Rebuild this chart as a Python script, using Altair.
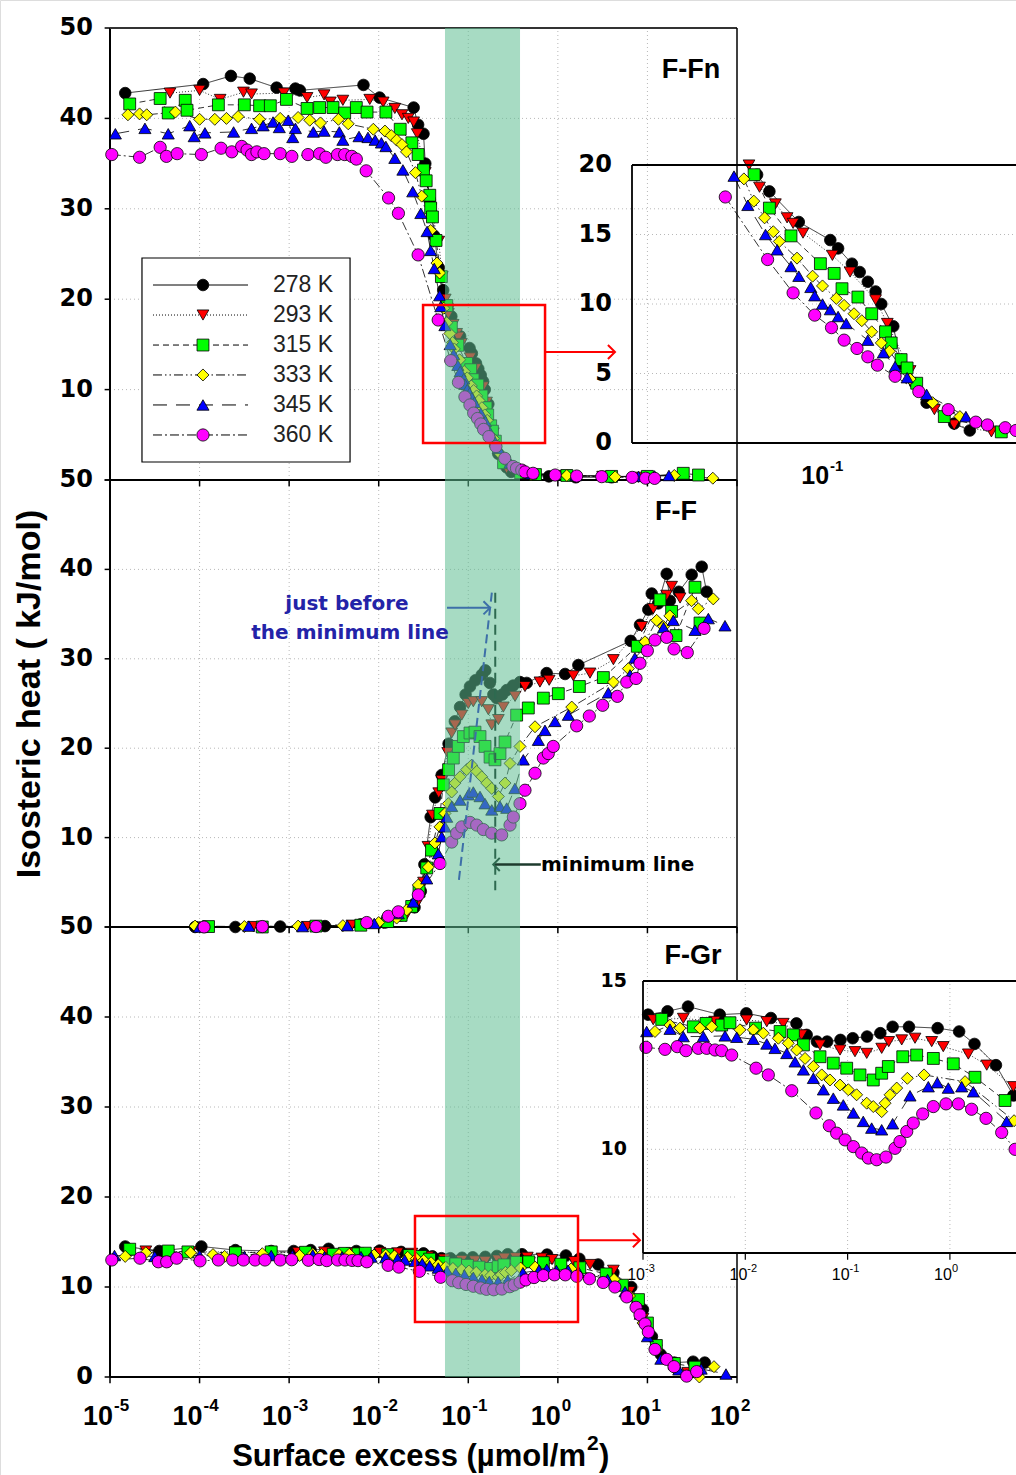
import altair as alt
import pandas as pd

# ---------------- series styling ----------------
SERIES = ["278 K", "293 K", "315 K", "333 K", "345 K", "360 K"]
FILLS = ["#000000", "#ff0000", "#00ff00", "#ffff00", "#0000ff", "#ff00ff"]
SHAPES = ["circle", "triangle-down", "square", "diamond", "triangle-up", "circle"]
SIZES = [135, 150, 110, 175, 150, 145]
DASHES = [[1, 0], [1, 2], [6, 4], [9, 3, 1.5, 3, 1.5, 3], [14, 9], [9, 3, 2, 3]]

# ---------------- data: (log10 surface excess, isosteric heat kJ/mol) ----------------
# Panel F-Fn
FFN_278 = [(-4.83, 42.8), (-3.96, 43.8), (-3.65, 44.7), (-3.44, 44.4), (-3.14, 43.4), (-2.93, 43.3), (-2.88, 43.1),
           (-2.17, 43.7), (-1.99, 42.3), (-1.61, 41.2), (-1.56, 39.3), (-1.50, 38.3), (-1.48, 35.0), (-1.43, 31.0),
           (-1.38, 27.0), (-1.33, 23.5), (-1.28, 21.0), (-1.23, 19.3), (-1.189, 18.1), (-1.091, 15.9), (-0.986, 14.6),
           (-0.960, 14.0), (-0.914, 12.9), (-0.888, 12.3), (-0.861, 11.6), (-0.835, 10.9), (-0.816, 10.0),
           (-0.776, 8.4), (-0.750, 5.7), (-0.704, 4.3), (-0.665, 2.9), (-0.573, 1.4), (-0.521, 0.9), (-0.35, 0.6),
           (-0.1, 0.4), (0.2, 0.3), (0.6, 0.3)]
FFN_293 = [(-4.33, 42.8), (-4.00, 43.1), (-3.77, 42.1), (-3.51, 42.9), (-3.42, 42.7), (-3.06, 42.8), (-2.80, 42.3),
           (-2.61, 42.6), (-2.54, 41.8), (-2.40, 42.0), (-2.10, 42.1), (-1.95, 41.8), (-1.82, 41.1), (-1.74, 40.4),
           (-1.67, 40.0), (-1.61, 39.6), (-1.57, 38.3), (-1.48, 34.0), (-1.42, 30.0), (-1.33, 26.4), (-1.29, 22.5),
           (-1.257, 20.0), (-1.222, 18.4), (-1.169, 17.2), (-1.130, 16.2), (-1.110, 15.8), (-1.077, 15.1),
           (-0.979, 13.5), (-0.920, 12.3), (-0.835, 10.3), (-0.796, 8.6), (-0.72, 5.2), (-0.639, 2.4), (-0.573, 1.3),
           (-0.449, 0.8), (-0.3, 0.6), (0.0, 0.5), (0.5, 0.4), (0.9, 0.3)]
FFN_315 = [(-4.78, 41.6), (-4.44, 42.2), (-4.35, 40.6), (-4.16, 42.0), (-4.14, 40.9), (-3.79, 41.5), (-3.50, 41.5),
           (-3.33, 41.4), (-3.21, 41.4), (-3.03, 42.1), (-2.80, 41.1), (-2.66, 41.2), (-2.51, 41.2), (-2.38, 40.6),
           (-2.25, 41.2), (-2.13, 40.7), (-1.92, 40.7), (-1.76, 38.8), (-1.63, 37.3), (-1.56, 36.0), (-1.50, 34.3),
           (-1.47, 33.1), (-1.43, 31.5), (-1.42, 30.1), (-1.40, 29.1), (-1.36, 26.5), (-1.30, 22.5), (-1.24, 19.3),
           (-1.189, 16.9), (-1.117, 14.9), (-1.019, 12.9), (-0.973, 12.2), (-0.947, 11.1), (-0.894, 10.5),
           (-0.848, 9.3), (-0.802, 8.0), (-0.783, 7.2), (-0.750, 6.0), (-0.730, 5.4), (-0.698, 4.3), (-0.606, 1.9),
           (-0.416, 0.8), (-0.25, 0.6), (0.1, 0.5), (0.6, 0.4), (1.0, 0.4), (1.40, 0.74), (1.57, 0.55)]
FFN_333 = [(-4.80, 40.4), (-4.67, 40.5), (-4.59, 40.4), (-4.27, 40.7), (-4.00, 39.9), (-3.83, 39.9), (-3.70, 40.0),
           (-3.57, 40.2), (-3.33, 39.9), (-3.10, 40.0), (-2.90, 40.1), (-2.77, 39.8), (-2.65, 39.5), (-2.45, 39.9),
           (-2.34, 39.4), (-2.06, 38.8), (-1.93, 38.6), (-1.86, 38.1), (-1.80, 37.6), (-1.74, 37.1), (-1.69, 36.3),
           (-1.59, 34.0), (-1.52, 31.4), (-1.42, 27.6), (-1.35, 24.0), (-1.32, 22.9), (-1.274, 19.0), (-1.241, 17.4),
           (-1.205, 16.2), (-1.176, 15.2), (-1.156, 14.5), (-1.097, 13.3), (-1.045, 12.0), (-1.012, 11.3),
           (-0.966, 10.4), (-0.940, 9.9), (-0.907, 9.3), (-0.881, 8.8), (-0.848, 8.0), (-0.816, 7.2), (-0.789, 6.6),
           (-0.72, 4.6), (-0.645, 2.9), (-0.554, 1.9), (-0.3, 0.6), (0.1, 0.5), (0.64, 0.35), (1.3, 0.5), (1.73, 0.2)]
FFN_345 = [(-4.94, 38.3), (-4.61, 38.9), (-4.35, 38.3), (-4.11, 39.2), (-4.06, 38.0), (-3.94, 38.4), (-3.62, 38.5),
           (-3.42, 38.9), (-3.29, 39.2), (-3.18, 39.6), (-3.11, 39.0), (-3.01, 39.8), (-2.96, 37.9), (-2.93, 38.9),
           (-2.73, 38.5), (-2.61, 38.6), (-2.44, 38.5), (-2.40, 37.6), (-2.22, 38.0), (-2.12, 37.9), (-2.04, 37.6),
           (-1.97, 37.3), (-1.92, 36.9), (-1.82, 35.6), (-1.73, 34.3), (-1.62, 31.9), (-1.53, 29.5), (-1.46, 27.5),
           (-1.42, 25.4), (-1.38, 23.4), (-1.32, 20.4), (-1.307, 19.2), (-1.261, 17.1), (-1.202, 15.0),
           (-1.163, 13.9), (-1.117, 12.7), (-1.091, 12.0), (-1.051, 11.2), (-1.038, 10.6), (-1.012, 10.0),
           (-0.986, 9.6), (-0.960, 9.1), (-0.933, 8.6), (-0.861, 7.4), (-0.809, 6.5), (-0.770, 5.5), (-0.730, 4.7),
           (-0.665, 3.5), (-0.534, 1.9), (-0.3, 0.7), (0.2, 0.5), (0.9, 0.4), (1.08, 0.45), (1.24, 0.5)]
FFN_360 = [(-4.98, 36.0), (-4.67, 35.7), (-4.44, 36.8), (-4.37, 35.8), (-4.25, 36.1), (-3.98, 36.0), (-3.76, 36.7),
           (-3.64, 36.3), (-3.53, 36.9), (-3.47, 36.5), (-3.42, 36.0), (-3.36, 36.3), (-3.28, 36.1), (-3.10, 36.1),
           (-2.97, 35.8), (-2.79, 36.0), (-2.66, 36.1), (-2.59, 35.7), (-2.46, 36.0), (-2.38, 36.0), (-2.30, 35.8),
           (-2.25, 35.5), (-2.14, 34.2), (-1.89, 31.2), (-1.78, 29.5), (-1.56, 24.9), (-1.336, 17.7), (-1.195, 13.2),
           (-1.110, 10.8), (-1.038, 9.2), (-0.982, 8.3), (-0.940, 7.4), (-0.897, 6.8), (-0.861, 6.2), (-0.829, 5.6),
           (-0.770, 4.8), (-0.691, 3.7), (-0.593, 2.4), (-0.501, 1.5), (-0.462, 1.3), (-0.403, 1.1), (-0.367, 0.9),
           (-0.277, 0.74), (-0.03, 0.55), (0.21, 0.44), (0.49, 0.37), (0.83, 0.29), (0.98, 0.2), (1.08, 0.18)]

# Panel F-F
FF_278 = [(-4.05, 0.0), (-3.6, 0.0), (-3.1, 0.05), (-2.6, 0.1), (-2.2, 0.3), (-1.93, 0.5), (-1.75, 1.3), (-1.6, 2.2),
          (-1.53, 4.0), (-1.49, 7.0), (-1.42, 12.3), (-1.37, 14.5), (-1.297, 17.0), (-1.22, 20.5), (-1.15, 23.0),
          (-1.092, 24.6), (-1.03, 26.0), (-0.981, 26.9), (-0.92, 27.6), (-0.85, 28.2), (-0.81, 28.7), (-0.76, 27.3),
          (-0.72, 26.0), (-0.683, 25.6), (-0.62, 26.0), (-0.571, 26.5), (-0.50, 27.0), (-0.423, 27.4),
          (-0.348, 27.3), (-0.125, 28.4), (0.081, 28.3), (0.229, 29.3), (0.813, 32.0), (0.917, 33.8), (1.01, 35.5),
          (1.048, 37.3), (1.12, 36.2), (1.215, 39.5), (1.25, 36.5), (1.35, 37.5), (1.494, 39.4), (1.606, 40.3),
          (1.661, 37.5)]
FF_293 = [(-4.0, 0.0), (-3.4, 0.05), (-2.8, 0.05), (-2.3, 0.2), (-1.95, 0.4), (-1.7, 1.2), (-1.58, 2.5), (-1.50, 5.0),
          (-1.45, 9.0), (-1.40, 12.5), (-1.33, 15.0), (-1.297, 16.4), (-1.23, 19.5), (-1.185, 21.7), (-1.148, 22.6),
          (-1.073, 23.7), (-1.0, 25.0), (-0.944, 25.2), (-0.85, 25.2), (-0.776, 24.3), (-0.738, 22.6),
          (-0.664, 23.2), (-0.609, 24.6), (-0.478, 25.8), (-0.367, 26.9), (-0.2, 27.4), (-0.097, 27.6),
          (0.173, 28.1), (0.359, 28.4), (0.62, 29.9), (0.936, 33.6), (1.066, 35.6), (1.214, 37.1), (1.27, 38.1),
          (1.364, 36.8)]
FF_315 = [(-3.9, 0.05), (-3.3, 0.0), (-2.7, 0.1), (-2.2, 0.2), (-1.9, 0.6), (-1.75, 1.3), (-1.632, 2.3), (-1.55, 4.0),
          (-1.464, 6.6), (-1.41, 8.6), (-1.316, 12.7), (-1.279, 15.9), (-1.22, 17.6), (-1.167, 18.9),
          (-1.111, 20.2), (-1.055, 21.3), (-0.981, 21.7), (-0.925, 21.8), (-0.869, 21.3), (-0.813, 20.2),
          (-0.757, 19.0), (-0.702, 18.7), (-0.646, 19.4), (-0.59, 20.7), (-0.46, 23.7), (-0.33, 24.5),
          (-0.162, 25.6), (0.005, 26.1), (0.24, 26.9), (0.508, 27.9), (0.887, 31.4), (1.14, 36.6), (1.27, 35.3),
          (1.319, 32.6), (1.531, 38.0), (1.587, 34.0)]
FF_333 = [(-4.05, 0.1), (-3.5, 0.05), (-2.9, 0.1), (-2.4, 0.15), (-2.0, 0.5), (-1.80, 1.0), (-1.688, 1.9),
          (-1.558, 4.7), (-1.446, 6.7), (-1.372, 9.4), (-1.316, 11.2), (-1.26, 12.7), (-1.223, 13.8),
          (-1.185, 15.1), (-1.148, 16.1), (-1.092, 16.8), (-1.018, 17.6), (-0.962, 18.1), (-0.906, 17.4),
          (-0.85, 16.8), (-0.794, 16.1), (-0.738, 15.5), (-0.664, 14.6), (-0.59, 16.1), (-0.534, 18.3),
          (-0.423, 20.2), (-0.255, 22.4), (0.155, 24.6), (0.62, 27.4), (0.787, 28.9), (0.973, 31.9), (1.103, 34.3),
          (1.18, 33.6), (1.25, 34.8), (1.493, 36.5), (1.568, 35.6), (1.735, 36.7)]
FF_345 = [(-4.0, 0.0), (-3.45, 0.1), (-2.85, 0.05), (-2.35, 0.15), (-2.05, 0.4), (-1.781, 1.5), (-1.614, 2.8),
          (-1.464, 5.4), (-1.335, 8.2), (-1.297, 10.1), (-1.26, 11.2), (-1.241, 12.3), (-1.185, 13.5),
          (-1.092, 14.2), (-1.0, 14.8), (-0.944, 15.1), (-0.869, 14.6), (-0.813, 13.8), (-0.738, 13.1),
          (-0.646, 13.5), (-0.571, 13.3), (-0.48, 15.5), (-0.386, 18.7), (-0.218, 20.9), (-0.144, 22.0),
          (-0.032, 23.0), (0.117, 23.7), (0.563, 26.2), (0.806, 28.2), (0.86, 30.1), (1.18, 33.5), (1.289, 34.3),
          (1.531, 33.2), (1.68, 34.5), (1.866, 33.7)]
FF_360 = [(-3.95, 0.0), (-3.3, 0.05), (-2.7, 0.05), (-2.134, 0.5), (-1.893, 1.2), (-1.781, 1.7), (-1.558, 3.6),
          (-1.316, 7.1), (-1.185, 9.5), (-1.13, 10.5), (-1.073, 11.2), (-0.981, 11.7), (-0.906, 11.4),
          (-0.832, 10.9), (-0.738, 10.5), (-0.627, 10.3), (-0.534, 11.4), (-0.497, 12.3), (-0.423, 13.8),
          (-0.367, 15.3), (-0.255, 17.2), (-0.162, 18.9), (-0.107, 19.4), (-0.051, 20.2), (0.21, 22.5),
          (0.351, 23.6), (0.50, 24.8), (0.664, 25.8), (0.769, 27.4), (0.873, 27.8), (0.917, 29.5), (0.999, 30.9),
          (1.085, 32.1), (1.215, 32.4), (1.297, 31.1), (1.445, 30.7), (1.632, 33.4)]

# Panel F-Gr
FGR_278 = [(-4.83, 14.5), (-4.45, 14.0), (-3.98, 14.5), (-3.6, 14.1), (-3.2, 14.0), (-2.95, 14.0), (-2.76, 14.1),
           (-2.56, 14.24), (-2.25, 14.0), (-1.99, 14.04), (-1.75, 13.9), (-1.50, 13.74), (-1.40, 13.4), (-1.30, 13.2),
           (-1.2, 13.2), (-1.07, 13.25), (-0.95, 13.3), (-0.81, 13.35), (-0.68, 13.45), (-0.56, 13.64),
           (-0.40, 13.64), (-0.12, 13.6), (0.09, 13.5), (0.24, 13.13), (0.45, 12.5), (0.62, 11.6), (0.82, 10.0),
           (0.95, 7.5), (1.05, 4.5), (1.15, 2.5), (1.3, 1.6), (1.51, 1.7), (1.64, 1.6)]
FGR_293 = [(-4.6, 14.0), (-4.1, 13.9), (-3.6, 13.9), (-3.2, 13.8), (-2.9, 13.85), (-2.606, 13.89), (-2.3, 13.8),
           (-1.987, 13.84), (-1.79, 13.79), (-1.629, 13.74), (-1.45, 13.4), (-1.27, 13.1), (-1.074, 12.95),
           (-0.928, 12.9), (-0.813, 12.85), (-0.667, 13.0), (-0.598, 13.2), (-0.471, 13.25), (-0.341, 13.3),
           (-0.178, 13.2), (-0.065, 13.05), (0.18, 12.83), (0.36, 12.5), (0.62, 11.86), (0.8, 9.5), (0.95, 6.5),
           (1.1, 3.0), (1.3, 1.0), (1.45, 0.5)]
FGR_315 = [(-4.78, 14.2), (-4.35, 14.0), (-4.13, 13.9), (-3.6, 13.8), (-3.2, 13.9), (-2.817, 13.86), (-2.508, 13.64),
           (-2.384, 13.74), (-2.231, 13.69), (-2.15, 13.76), (-1.9, 13.6), (-1.66, 13.5), (-1.53, 13.4),
           (-1.432, 13.1), (-1.27, 12.75), (-1.14, 12.56), (-1.009, 12.41), (-0.879, 12.21), (-0.749, 12.06),
           (-0.667, 12.26), (-0.602, 12.46), (-0.461, 12.75), (-0.325, 12.8), (-0.162, 12.7), (0.033, 12.54),
           (0.245, 12.14), (0.539, 11.45), (0.72, 10.2), (0.9, 8.6), (1.0, 6.0), (1.1, 3.5), (1.3, 1.5), (1.53, 1.1)]
FGR_333 = [(-4.83, 13.4), (-4.6, 13.8), (-4.1, 13.8), (-3.85, 13.6), (-3.72, 13.4), (-3.3, 13.7), (-2.883, 13.5),
           (-2.736, 13.69), (-2.638, 13.6), (-2.443, 13.6), (-2.328, 13.64), (-2.052, 13.55), (-1.922, 13.55),
           (-1.824, 13.45), (-1.677, 13.3), (-1.58, 13.15), (-1.498, 12.95), (-1.416, 12.7), (-1.335, 12.46),
           (-1.253, 12.21), (-1.172, 12.06), (-1.074, 11.91), (-0.993, 11.77), (-0.912, 11.62), (-0.813, 11.37),
           (-0.749, 11.27), (-0.667, 11.12), (-0.634, 11.37), (-0.585, 11.62), (-0.52, 11.82), (-0.416, 12.11),
           (-0.253, 12.21), (0.148, 12.01), (0.627, 10.85), (0.8, 9.0), (0.95, 6.0), (1.1, 3.0), (1.3, 1.0),
           (1.58, 0.0), (1.743, 1.15)]
FGR_345 = [(-4.95, 13.5), (-4.5, 13.4), (-4.0, 13.5), (-3.5, 13.4), (-3.2, 13.5), (-2.964, 13.5), (-2.736, 13.57),
           (-2.606, 13.35), (-2.41, 13.35), (-2.198, 13.37), (-2.084, 13.33), (-1.922, 13.27), (-1.79, 13.13),
           (-1.71, 13.0), (-1.595, 12.85), (-1.514, 12.6), (-1.432, 12.36), (-1.335, 12.11), (-1.237, 11.77),
           (-1.14, 11.52), (-1.042, 11.32), (-0.944, 11.08), (-0.847, 10.83), (-0.765, 10.63), (-0.667, 10.58),
           (-0.56, 10.76), (-0.39, 11.59), (-0.211, 11.86), (-0.123, 11.98), (-0.016, 11.82), (0.115, 11.86),
           (0.229, 11.71), (0.555, 10.83), (0.75, 9.5), (0.92, 7.0), (1.0, 4.5), (1.15, 2.0), (1.35, 0.8),
           (1.6, 0.9), (1.877, 0.33)]
FGR_360 = [(-4.98, 13.0), (-4.665, 13.2), (-4.46, 12.8), (-4.367, 12.8), (-4.255, 13.2), (-3.995, 12.9), (-3.79, 13.0),
           (-3.63, 13.0), (-3.51, 13.0), (-3.38, 13.0), (-3.27, 13.0), (-3.10, 13.0), (-2.971, 13.03),
           (-2.785, 12.97), (-2.665, 13.05), (-2.58, 12.93), (-2.459, 13.0), (-2.377, 13.0), (-2.296, 12.95),
           (-2.231, 12.93), (-2.133, 12.8), (-1.895, 12.41), (-1.775, 12.21), (-1.546, 11.74), (-1.309, 11.08),
           (-1.179, 10.7), (-1.107, 10.48), (-1.025, 10.28), (-0.944, 10.08), (-0.862, 9.89), (-0.797, 9.74),
           (-0.716, 9.69), (-0.625, 9.77), (-0.537, 10.03), (-0.488, 10.23), (-0.422, 10.53), (-0.358, 10.78),
           (-0.266, 11.05), (-0.162, 11.27), (-0.038, 11.35), (0.083, 11.35), (0.212, 11.19), (0.353, 10.92),
           (0.506, 10.5), (0.637, 10.0), (0.769, 8.9), (0.873, 7.74), (0.917, 6.9), (0.973, 5.9), (1.01, 5.0),
           (1.085, 3.07), (1.215, 1.96), (1.297, 1.15), (1.438, 0.1), (1.55, 0.6)]

FFN = [FFN_278, FFN_293, FFN_315, FFN_333, FFN_345, FFN_360]
FF = [FF_278, FF_293, FF_315, FF_333, FF_345, FF_360]
FGR = [FGR_278, FGR_293, FGR_315, FGR_333, FGR_345, FGR_360]

# ---------------- axes / labels ----------------
X_DECADES = [-5, -4, -3, -2, -1, 0, 1, 2]
GRID_DECADES = [-4, -3, -2, -1, 0, 1]
GRID_Y = [10, 20, 30, 40]
Y_TICKS = [0, 10, 20, 30, 40, 50]
Y_LABELS = {1: [10, 20, 30, 40, 50], 2: [10, 20, 30, 40, 50], 3: [0, 10, 20, 30, 40, 50]}
PANEL_NAMES = ["F-Fn", "F-F", "F-Gr"]
PANEL_NAME_POS = [(1.487, 45.35), (1.319, 46.4), (1.509, 46.8)]
BAND_LOG = (-1.26, -0.4225)

INSET1_LOG, INSET1_Y = (-1.647, -0.367), (0, 20)
INSET1_GRID, INSET1_LABELS, INSET1_XTICK = [5, 10, 15], [0, 5, 10, 15, 20], [-1]
INSET2_LOG, INSET2_Y = (-3.0, 0.646), (6.92, 15)
INSET2_HGRID, INSET2_VGRID, INSET2_LABELS, INSET2_XTICKS = [10], [-2, -1, 0], [10, 15], [-3, -2, -1, 0]

LEGEND_BOX = (-4.643, -2.32, 24.56, 1.99)
LEGEND_ROWS = [21.57, 18.25, 14.93, 11.62, 8.30, 4.98]
LEGEND_LINE, LEGEND_MARK, LEGEND_TEXT = (-4.52, -3.459), -3.962, -3.18

# ---------------- pixel layout ----------------
PX_MAIN_X = (110, 737)
PX_PANEL_Y = {1: (480, 28), 2: (927, 480), 3: (1377, 927)}
PX_IN1 = ((632, 1016), (443, 165))
PX_IN2 = ((643, 1016), (1253, 981))
BOLD = "Liberation Sans"
WIDE = "DejaVu Sans"


def logsc(lo, hi, px):
    return alt.Scale(type="log", domain=[10.0 ** lo, 10.0 ** hi], range=list(px), nice=False)


def linsc(lo, hi, px):
    return alt.Scale(type="linear", domain=[lo, hi], range=list(px), nice=False, zero=False)


def XM():
    return logsc(-5, 2, PX_MAIN_X)


def YM(p):
    return linsc(0, 50, PX_PANEL_Y[p])


def XI1():
    return logsc(INSET1_LOG[0], INSET1_LOG[1], PX_IN1[0])


def YI1():
    return linsc(INSET1_Y[0], INSET1_Y[1], PX_IN1[1])


def XI2():
    return logsc(INSET2_LOG[0], INSET2_LOG[1], PX_IN2[0])


def YI2():
    return linsc(INSET2_Y[0], INSET2_Y[1], PX_IN2[1])


def enc_xy(xs, ys):
    return dict(x=alt.X("x:Q", scale=xs, axis=None), y=alt.Y("y:Q", scale=ys, axis=None))


def series_frame(lists, xlim=None, ylim=None):
    rows = []
    for name, pts in zip(SERIES, lists):
        for lx, y in pts:
            if xlim and not (xlim[0] - 0.005 <= lx <= xlim[1] + 0.005):
                continue
            if ylim and not (ylim[0] - 0.1 <= y <= ylim[1] + 0.3):
                continue
            rows.append({"series": name, "x": 10.0 ** lx, "y": y})
    return pd.DataFrame(rows)


def series_layers(df, xs, ys):
    line = alt.Chart(df).mark_line(color="black", strokeWidth=0.8).encode(
        **enc_xy(xs, ys),
        strokeDash=alt.StrokeDash("series:N", scale=alt.Scale(domain=SERIES, range=DASHES), legend=None))
    return [line, points(df, xs, ys)]


def points(df, xs, ys):
    return alt.Chart(df).mark_point(filled=True, opacity=1, stroke="black", strokeWidth=0.8).encode(
        **enc_xy(xs, ys),
        shape=alt.Shape("series:N", scale=alt.Scale(domain=SERIES, range=SHAPES), legend=None),
        fill=alt.Fill("series:N", scale=alt.Scale(domain=SERIES, range=FILLS), legend=None),
        size=alt.Size("series:O", scale=alt.Scale(domain=SERIES, range=SIZES), legend=None))


def seg(rows, xs, ys, **mk):
    df = pd.DataFrame(rows)
    enc = enc_xy(xs, ys)
    if "x2" in df.columns:
        enc["x2"] = alt.X2("x2:Q")
    if "y2" in df.columns:
        enc["y2"] = alt.Y2("y2:Q")
    return alt.Chart(df).mark_rule(**mk).encode(**enc)


def rect(rows, xs, ys, **mk):
    df = pd.DataFrame(rows)
    return alt.Chart(df).mark_rect(**mk).encode(**enc_xy(xs, ys), x2=alt.X2("x2:Q"), y2=alt.Y2("y2:Q"))


def txt(rows, xs, ys, **mk):
    df = pd.DataFrame(rows)
    return alt.Chart(df).mark_text(**mk).encode(**enc_xy(xs, ys), text=alt.Text("t:N"))


def chevron(rows, xs, ys, path, color, size=200):
    df = pd.DataFrame(rows)
    return alt.Chart(df).mark_point(shape=path, filled=False, stroke=color, strokeWidth=2, size=size,
                                    opacity=1).encode(**enc_xy(xs, ys))


GRID = dict(color="#b8b8b8", strokeDash=[1, 3], strokeWidth=1)
RIGHT = "M-1,-1L0,0L-1,1"
LEFT = "M1,-1L0,0L1,1"

layers = []

# ---- main grids
for p in (1, 2, 3):
    layers.append(seg([{"x": 10.0 ** d, "y": 0, "y2": 50} for d in GRID_DECADES], XM(), YM(p), **GRID))
    layers.append(seg([{"x": 1e-5, "x2": 1e2, "y": v} for v in GRID_Y], XM(), YM(p), **GRID))

# ---- main frames and ticks
for p in (1, 2, 3):
    layers.append(seg([{"x": 1e-5, "y": 0, "y2": 50}], XM(), YM(p), color="black", strokeWidth=2))
    layers.append(seg([{"x": 1e-5, "x2": 1e2, "y": 0}], XM(), YM(p), color="black", strokeWidth=2.2))
    layers.append(seg([{"x": 10.0 ** d, "y": 0, "y2": -0.7} for d in X_DECADES], XM(), YM(p),
                      color="black", strokeWidth=1.5))
    layers.append(seg([{"x": 1e-5, "x2": 10.0 ** -5.06, "y": v} for v in Y_TICKS], XM(), YM(p),
                      color="black", strokeWidth=1.5))
layers.append(seg([{"x": 1e-5, "x2": 1e2, "y": 50}], XM(), YM(1), color="#333333", strokeWidth=2))
layers.append(seg([{"x": 1e2, "y": 0, "y2": 50}], XM(), YM(1), color="black", strokeWidth=1.5))
layers.append(seg([{"x": 1e2, "y": 0, "y2": 50}], XM(), YM(2), color="black", strokeWidth=1.5))
layers.append(seg([{"x": 1e2, "y": 0, "y2": 13.8}, {"x": 1e2, "y": 44.0, "y2": 50}], XM(), YM(3),
                  color="black", strokeWidth=1.5))

# ---- main data
for p, lists in ((1, FFN), (2, FF), (3, FGR)):
    layers += series_layers(series_frame(lists), XM(), YM(p))

# ---- green band (over the data)
layers.append(rect([{"x": 10.0 ** BAND_LOG[0], "x2": 10.0 ** BAND_LOG[1], "y": 0, "y2": 1}], XM(),
                   linsc(0, 1, (1377, 28)), color="#5fbe91", opacity=0.55))

# ---- red zoom boxes and arrows
layers.append(rect([{"x": 10.0 ** -1.505, "x2": 10.0 ** -0.143, "y": 4.09, "y2": 19.36}], XM(), YM(1),
                   fill="white", fillOpacity=0, stroke="#ff0000", strokeWidth=2.5))
layers.append(seg([{"x": 10.0 ** -0.143, "x2": 10.0 ** 0.625, "y": 14.16}], XM(), YM(1), color="#ff0000",
                  strokeWidth=2))
layers.append(chevron([{"x": 10.0 ** 0.638, "y": 14.16}], XM(), YM(1), RIGHT, "#ff0000"))
layers.append(rect([{"x": 10.0 ** -1.595, "x2": 10.0 ** 0.225, "y": 6.1, "y2": 17.9}], XM(), YM(3),
                   fill="white", fillOpacity=0, stroke="#ff0000", strokeWidth=2.5))
layers.append(seg([{"x": 10.0 ** 0.225, "x2": 10.0 ** 0.905, "y": 15.2}], XM(), YM(3), color="#ff0000",
                  strokeWidth=2))
layers.append(chevron([{"x": 10.0 ** 0.917, "y": 15.2}], XM(), YM(3), RIGHT, "#ff0000"))

# ---- F-F annotations
layers.append(seg([{"x": 10.0 ** -0.737, "x2": 10.0 ** -1.11, "y": 37.4, "y2": 4.8}], XM(), YM(2),
                  color="#3d6fa8", strokeWidth=2, strokeDash=[9, 5]))
layers.append(seg([{"x": 0.2, "y": 37.4, "y2": 4.1}], XM(), YM(2), color="#2e6a50", strokeWidth=2,
                  strokeDash=[10, 6]))
layers.append(seg([{"x": 10.0 ** -1.2375, "x2": 10.0 ** -0.7575, "y": 35.7}], XM(), YM(2), color="#3d6fa8",
                  strokeWidth=2))
layers.append(chevron([{"x": 10.0 ** -0.7575, "y": 35.7}], XM(), YM(2), RIGHT, "#3d6fa8", size=170))
layers.append(seg([{"x": 10.0 ** -0.19, "x2": 0.19, "y": 7.0}], XM(), YM(2), color="#1e3b2e", strokeWidth=2.5))
layers.append(chevron([{"x": 0.19, "y": 7.0}], XM(), YM(2), LEFT, "#2e6a50", size=170))
layers.append(txt([{"x": 10.0 ** -2.354, "y": 36.1, "t": "just before"},
                   {"x": 10.0 ** -2.32, "y": 32.85, "t": "the minimum line"}], XM(), YM(2),
                  font=WIDE, fontSize=20, fontWeight="bold", color="#2323a8", align="center", baseline="middle"))
layers.append(txt([{"x": 10.0 ** -0.188, "y": 6.94, "t": "minimum line"}], XM(), YM(2),
                  font=WIDE, fontSize=20, fontWeight="bold", color="black", align="left", baseline="middle"))

# ---- panel names
for p, (name, (lx, y)) in enumerate(zip(PANEL_NAMES, PANEL_NAME_POS), start=1):
    layers.append(txt([{"x": 10.0 ** lx, "y": y, "t": name}], XM(), YM(p), font=BOLD, fontSize=27,
                      fontWeight="bold", color="black", align="center", baseline="middle"))

# ---- main tick labels
for p in (1, 2, 3):
    layers.append(txt([{"x": 1e-5, "y": v, "t": str(v)} for v in Y_LABELS[p]], XM(), YM(p), font=WIDE,
                      fontSize=24, fontWeight="bold", color="black", align="right", baseline="middle", dx=-17))
layers.append(txt([{"x": 10.0 ** d, "y": 0, "t": "10"} for d in X_DECADES], XM(), YM(3), font=BOLD,
                  fontSize=27, fontWeight="bold", color="black", align="right", baseline="middle", dx=3, dy=40))
layers.append(txt([{"x": 10.0 ** d, "y": 0, "t": str(d)} for d in X_DECADES], XM(), YM(3), font=BOLD,
                  fontSize=17, fontWeight="bold", color="black", align="left", baseline="middle", dx=4, dy=29))

# ---- axis titles
title_df = pd.DataFrame({"t": ["Isosteric heat ( kJ/mol)"]})
layers.append(alt.Chart(title_df).mark_text(font=BOLD, fontSize=34, fontWeight="bold", angle=270,
                                            align="center", baseline="middle", color="black").encode(
    x=alt.value(30), y=alt.value(694), text="t:N"))
xt_df = pd.DataFrame({"t": ["Surface excess (µmol/m"]})
layers.append(alt.Chart(xt_df).mark_text(font=BOLD, fontSize=31, fontWeight="bold", align="right",
                                         baseline="middle", color="black").encode(
    x=alt.value(586), y=alt.value(1457), text="t:N"))
layers.append(alt.Chart(pd.DataFrame({"t": ["2"]})).mark_text(
    font=BOLD, fontSize=21, fontWeight="bold", align="left", baseline="middle", color="black").encode(
    x=alt.value(587), y=alt.value(1444), text="t:N"))
layers.append(alt.Chart(pd.DataFrame({"t": [")"]})).mark_text(
    font=BOLD, fontSize=31, fontWeight="bold", align="left", baseline="middle", color="black").encode(
    x=alt.value(599), y=alt.value(1457), text="t:N"))

# ---- legend
bx0, bx1, by0, by1 = LEGEND_BOX
layers.append(rect([{"x": 10.0 ** bx0, "x2": 10.0 ** bx1, "y": by0, "y2": by1}], XM(), YM(1),
                   fill="white", stroke="black", strokeWidth=1.2))
leg_line = pd.DataFrame([{"series": s, "x": 10.0 ** lx, "y": ry}
                         for s, ry in zip(SERIES, LEGEND_ROWS) for lx in LEGEND_LINE])
layers.append(alt.Chart(leg_line).mark_line(color="black", strokeWidth=1).encode(
    **enc_xy(XM(), YM(1)),
    strokeDash=alt.StrokeDash("series:N", scale=alt.Scale(domain=SERIES, range=DASHES), legend=None)))
leg_pts = pd.DataFrame([{"series": s, "x": 10.0 ** LEGEND_MARK, "y": ry} for s, ry in zip(SERIES, LEGEND_ROWS)])
layers.append(points(leg_pts, XM(), YM(1)))
layers.append(txt([{"x": 10.0 ** LEGEND_TEXT, "y": ry, "t": s} for s, ry in zip(SERIES, LEGEND_ROWS)], XM(),
                  YM(1), font=BOLD, fontSize=23, color="#222222", align="left", baseline="middle"))

# ---- inset 1 (F-Fn zoom)
i1x, i1y = INSET1_LOG, INSET1_Y
layers.append(seg([{"x": 10.0 ** i1x[0], "x2": 10.0 ** i1x[1], "y": v} for v in INSET1_GRID], XI1(), YI1(),
                  **GRID))
layers += series_layers(series_frame(FFN, i1x, i1y), XI1(), YI1())
layers.append(seg([{"x": 10.0 ** i1x[0], "y": i1y[0], "y2": i1y[1]}], XI1(), YI1(), color="black",
                  strokeWidth=1.8))
layers.append(seg([{"x": 10.0 ** i1x[0], "x2": 10.0 ** i1x[1], "y": v} for v in i1y], XI1(), YI1(),
                  color="black", strokeWidth=1.8))
layers.append(txt([{"x": 10.0 ** i1x[0], "y": v, "t": str(v)} for v in INSET1_LABELS], XI1(), YI1(), font=WIDE,
                  fontSize=24, fontWeight="bold", color="black", align="right", baseline="middle", dx=-20))
layers.append(txt([{"x": 10.0 ** d, "y": 0, "t": "10"} for d in INSET1_XTICK], XI1(), YI1(), font=BOLD,
                  fontSize=25, fontWeight="bold", color="black", align="right", baseline="middle", dx=3, dy=33))
layers.append(txt([{"x": 10.0 ** d, "y": 0, "t": str(d)} for d in INSET1_XTICK], XI1(), YI1(), font=BOLD,
                  fontSize=15, fontWeight="bold", color="black", align="left", baseline="middle", dx=4, dy=23))

# ---- inset 2 (F-Gr zoom)
i2x, i2y = INSET2_LOG, INSET2_Y
layers.append(seg([{"x": 10.0 ** i2x[0], "x2": 10.0 ** i2x[1], "y": v} for v in INSET2_HGRID], XI2(), YI2(),
                  **GRID))
layers.append(seg([{"x": 10.0 ** d, "y": i2y[0], "y2": i2y[1]} for d in INSET2_VGRID], XI2(), YI2(), **GRID))
layers += series_layers(series_frame(FGR, i2x, i2y), XI2(), YI2())
layers.append(seg([{"x": 10.0 ** i2x[0], "y": i2y[0], "y2": i2y[1]}], XI2(), YI2(), color="black",
                  strokeWidth=1.8))
layers.append(seg([{"x": 10.0 ** i2x[0], "x2": 10.0 ** i2x[1], "y": v} for v in i2y], XI2(), YI2(),
                  color="black", strokeWidth=1.8))
layers.append(seg([{"x": 10.0 ** d, "y": i2y[0], "y2": i2y[0] - 0.2} for d in INSET2_XTICKS], XI2(), YI2(),
                  color="black", strokeWidth=1.2))
layers.append(txt([{"x": 10.0 ** i2x[0], "y": v, "t": str(v)} for v in INSET2_LABELS], XI2(), YI2(), font=WIDE,
                  fontSize=19, fontWeight="bold", color="black", align="right", baseline="middle", dx=-16))
layers.append(txt([{"x": 10.0 ** d, "y": i2y[0], "t": "10"} for d in INSET2_XTICKS], XI2(), YI2(), font=BOLD,
                  fontSize=16, color="black", align="right", baseline="middle", dx=2, dy=22))
layers.append(txt([{"x": 10.0 ** d, "y": i2y[0], "t": str(d)} for d in INSET2_XTICKS], XI2(), YI2(), font=BOLD,
                  fontSize=11, color="black", align="left", baseline="middle", dx=2, dy=16))

chart = alt.layer(*layers).resolve_scale(
    x="independent", y="independent", fill="independent", shape="independent",
    size="independent", strokeDash="independent"
).properties(
    width=1016, height=1475, autosize=alt.AutoSizeParams(type="none"), padding=0
).configure_view(stroke=None).configure(background="white")

chart.save("out.html", embed_options={"renderer": "svg", "actions": False})
